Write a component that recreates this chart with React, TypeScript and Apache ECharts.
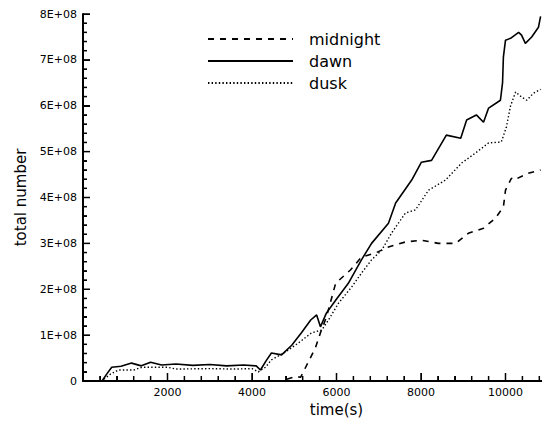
import React, { useEffect, useRef } from "react";
import * as echarts from "echarts";

// time (s), total number (in units of 1E+08)
const midnight: [number, number][] = [
  [0, 0], [4700, 0], [4860, 0.05], [5030, 0.1], [5150, 0.08], [5270, 0.3], [5500, 0.72],
  [5620, 1.05], [5760, 1.39], [5980, 2.13], [6330, 2.42], [6590, 2.7], [6920, 2.79],
  [7230, 2.92], [7630, 3.03], [8010, 3.07], [8410, 3.0], [8820, 3.0], [9120, 3.22],
  [9480, 3.33], [9760, 3.55], [9950, 3.79], [10000, 4.16], [10140, 4.42], [10200, 4.38],
  [10540, 4.53], [10830, 4.6],
];
const dawn: [number, number][] = [
  [0, 0], [450, 0], [560, 0.15], [680, 0.3], [900, 0.32], [1150, 0.39], [1380, 0.33],
  [1600, 0.41], [1860, 0.35], [2200, 0.37], [2600, 0.34], [3000, 0.36], [3400, 0.33],
  [3800, 0.35], [4100, 0.33], [4200, 0.24], [4340, 0.45], [4460, 0.61], [4700, 0.57],
  [4940, 0.78], [5170, 1.05], [5390, 1.33], [5530, 1.44], [5620, 1.18], [5760, 1.48],
  [5980, 1.76], [6280, 2.13], [6590, 2.64], [6830, 3.0], [7230, 3.44], [7400, 3.88],
  [7780, 4.38], [8010, 4.77], [8250, 4.81], [8600, 5.36], [8940, 5.29], [9080, 5.69],
  [9310, 5.8], [9480, 5.64], [9600, 5.95], [9880, 6.12], [9930, 6.5], [9950, 7.06],
  [10000, 7.43], [10120, 7.47], [10310, 7.6], [10380, 7.54], [10470, 7.36], [10620, 7.5],
  [10780, 7.71], [10830, 7.95],
];
const dusk: [number, number][] = [
  [0, 0], [440, 0], [650, 0.15], [840, 0.24], [1200, 0.24], [1400, 0.3], [2000, 0.3],
  [2200, 0.26], [3000, 0.27], [3600, 0.26], [4000, 0.27], [4150, 0.2], [4320, 0.3],
  [4460, 0.46], [4790, 0.63], [5100, 0.83], [5410, 1.05], [5650, 1.11], [5810, 1.33],
  [6050, 1.7], [6360, 2.05], [6590, 2.35], [6830, 2.64], [7070, 2.85], [7300, 3.22],
  [7630, 3.66], [7870, 3.73], [8180, 4.16], [8580, 4.38], [8960, 4.75], [9290, 4.97],
  [9600, 5.19], [9900, 5.21], [10020, 5.53], [10120, 6.0], [10240, 6.3], [10380, 6.19],
  [10500, 6.12], [10660, 6.27], [10830, 6.36],
];
const seriesNames = ["midnight", "dawn", "dusk"];
const xTickLabels = ["2000", "4000", "6000", "8000", "10000"];

// axis tick layout
const X_MAJOR = 2000;
const X_MINOR = 400;
const X_MAX = 12000;
const Y_MAJOR = 1;
const Y_MINOR = 0.2;
const Y_MAX = 8;

const FONT = "DejaVu Sans";
// chart canvas is wider than the visible 542px so the x axis runs off the right edge
const CANVAS_W = 590;

function tickList(step: number, max: number): number[] {
  const out: number[] = [];
  const n = Math.round(max / step);
  for (let i = 0; i <= n; i++) out.push(Math.round(i * step * 1000) / 1000);
  return out;
}

export default function App() {
  const ref = useRef<HTMLDivElement>(null);
  useEffect(() => {
    if (!ref.current) return;
    const chart = echarts.init(ref.current, undefined, { renderer: "svg" });
    const lineBase = { type: "line", symbol: "none", showSymbol: false, smooth: false };
    const xTicks = tickList(X_MINOR, X_MAX).map((v) => [v, 0]);
    const yTicks = tickList(Y_MINOR, Y_MAX).map((v) => [0, v]);
    const isMajor = (v: number, step: number) => Math.abs(v / step - Math.round(v / step)) < 1e-6;
    chart.setOption({
      animation: false,
      backgroundColor: "#ffffff",
      grid: { left: 83, right: 0, top: 14, bottom: 41, containLabel: false, outerBoundsMode: "none" },
      legend: {
        orient: "vertical",
        left: 202,
        top: 26,
        itemWidth: 85,
        itemHeight: 14,
        itemGap: 6,
        data: seriesNames,
        itemStyle: { opacity: 0 },
        textStyle: { fontFamily: FONT, fontSize: 16, color: "#000", lineHeight: 16, padding: [0, 0, 0, 11] },
      },
      xAxis: {
        type: "value",
        min: 0,
        max: X_MAX,
        interval: X_MAJOR,
        name: "time(s)",
        nameLocation: "middle",
        nameGap: 20,
        nameTextStyle: { fontFamily: FONT, fontSize: 15, color: "#000" },
        axisLine: { show: true, onZero: false, lineStyle: { color: "#000", width: 2 } },
        axisTick: { show: true, inside: true, length: 8, lineStyle: { color: "#000" } },
        minorTick: { show: true, splitNumber: 5, length: 5, lineStyle: { color: "#000" } },
        axisLabel: {
          fontFamily: FONT,
          fontSize: 11,
          color: "#000",
          margin: 6,
          formatter: (v: number) => (xTickLabels.includes(String(v)) ? String(v) : ""),
        },
        splitLine: { show: false },
        minorSplitLine: { show: false },
      },
      yAxis: {
        type: "value",
        min: 0,
        max: Y_MAX,
        interval: Y_MAJOR,
        name: "total number",
        nameLocation: "middle",
        nameGap: 51,
        nameRotate: 90,
        nameTextStyle: { fontFamily: FONT, fontSize: 15, color: "#000" },
        axisLine: { show: true, onZero: false, lineStyle: { color: "#000", width: 2 } },
        axisTick: { show: true, inside: true, length: 7, lineStyle: { color: "#000" } },
        minorTick: { show: true, splitNumber: 5, length: 4, lineStyle: { color: "#000" } },
        axisLabel: {
          fontFamily: FONT,
          fontSize: 11,
          color: "#000",
          margin: 6,
          formatter: (v: number) => (v === 0 ? "0" : `${v}E+08`),
        },
        splitLine: { show: false },
        minorSplitLine: { show: false },
      },
      series: [
        { ...lineBase, name: "midnight", data: midnight, itemStyle: { color: "#000" }, lineStyle: { color: "#000", width: 1.6, type: [6, 6] } },
        { ...lineBase, name: "dawn", data: dawn, itemStyle: { color: "#000" }, lineStyle: { color: "#000", width: 1.6, type: "solid" } },
        { ...lineBase, name: "dusk", data: dusk, itemStyle: { color: "#000" }, lineStyle: { color: "#000", width: 1.4, type: [1.4, 2.2] } },
        {
          type: "custom",
          name: "xticks",
          clip: false,
          silent: true,
          data: xTicks,
          encode: { x: 0, y: 1 },
          renderItem: (_p: any, api: any) => {
            const v = api.value(0);
            const pt = api.coord([v, 0]);
            const len = isMajor(v, X_MAJOR) ? 8 : 5;
            return {
              type: "line",
              shape: { x1: pt[0], y1: pt[1], x2: pt[0], y2: pt[1] - len },
              style: { stroke: "#000", lineWidth: 1.5 },
            };
          },
        },
        {
          type: "custom",
          name: "yticks",
          clip: false,
          silent: true,
          data: yTicks,
          encode: { x: 0, y: 1 },
          renderItem: (_p: any, api: any) => {
            const v = api.value(1);
            const pt = api.coord([0, v]);
            const len = isMajor(v, Y_MAJOR) ? 7 : 4;
            return {
              type: "line",
              shape: { x1: pt[0], y1: pt[1], x2: pt[0] + len, y2: pt[1] },
              style: { stroke: "#000", lineWidth: 1.5 },
            };
          },
        },
      ],
    });
    return () => chart.dispose();
  }, []);
  return (
    <div style={{ position: "fixed", left: 0, top: 0, width: 542, height: 422, overflow: "hidden", background: "#fff" }}>
      <div ref={ref} style={{ width: CANVAS_W, height: 422 }} />
    </div>
  );
}
